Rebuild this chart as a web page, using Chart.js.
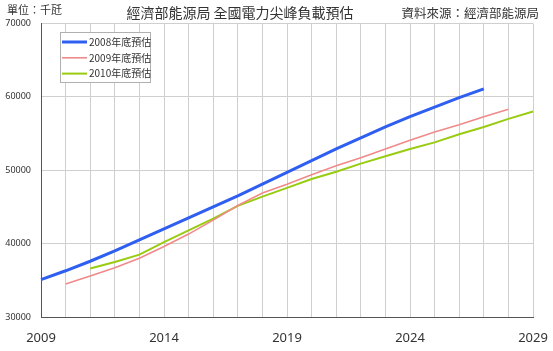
<!DOCTYPE html>
<html>
<head>
<meta charset="utf-8">
<script src="https://cdn.jsdelivr.net/npm/chart.js@4"></script>
<style>
  body { margin: 0; background: #fff; }
  #wrap { width: 553px; height: 351px; }
</style>
</head>
<body>
<div id="wrap"><canvas id="peak-load" width="553" height="351"></canvas></div>
<script>
// years on the x axis (a label shown every 5 years)
var years = ["2009", "2010", "2011", "2012", "2013", "2014", "2015", "2016", "2017", "2018",
             "2019", "2020", "2021", "2022", "2023", "2024", "2025", "2026", "2027", "2028", "2029"];

// 尖峰負載預估 (千瓩), null where a forecast has no value
var forecast2008 = [35100, 36300, 37600, 39000, 40500, 42000, 43500, 45000, 46500, 48100,
                    49700, 51300, 52900, 54400, 55900, 57300, 58600, 59900, 61100, null, null];
var forecast2009 = [null, 34500, 35600, 36700, 38000, 39600, 41300, 43200, 45200, 46900,
                    48100, 49400, 50600, 51700, 52900, 54100, 55200, 56200, 57300, 58300, null];
var forecast2010 = [null, null, 36600, 37500, 38500, 40200, 41800, 43400, 45150, 46400,
                    47600, 48800, 49800, 50900, 51900, 52900, 53800, 54900, 55900, 57000, 58000];

var seriesNames = ["2008年底預估", "2009年底預估", "2010年底預估"];
var yTicks = [30000, 40000, 50000, 60000, 70000];

var cjk = "'Noto Sans CJK TC', 'Noto Sans', sans-serif";

// header texts and the legend box inside the plot
var overlay = {
  id: "overlay",
  afterDraw: function (chart) {
    var c = chart.ctx;
    c.save();
    c.fillStyle = "#333";
    c.textBaseline = "middle";
    c.font = "11px " + cjk;
    c.textAlign = "left";
    c.fillText("單位：千瓩", 7, 10);
    c.font = "14px " + cjk;
    c.textAlign = "center";
    c.fillText("經濟部能源局 全國電力尖峰負載預估", 240, 13);
    c.font = "12.5px " + cjk;
    c.textAlign = "right";
    c.fillText("資料來源：經濟部能源局", 539, 13);

    // legend
    c.fillStyle = "#fff";
    c.fillRect(60.5, 32.5, 90, 50);
    c.strokeStyle = "#b0b0b0";
    c.lineWidth = 1;
    c.strokeRect(60.5, 32.5, 90, 50);
    c.font = "10px " + cjk;
    c.textAlign = "left";
    chart.data.datasets.forEach(function (ds, i) {
      var y = 42 + i * 15.8;
      c.strokeStyle = ds.borderColor;
      c.lineWidth = ds.borderWidth;
      c.beginPath();
      c.moveTo(62, y);
      c.lineTo(87, y);
      c.stroke();
      c.fillStyle = "#333";
      c.fillText(ds.label, 89, y);
    });
    c.restore();
  }
};

new Chart(document.getElementById("peak-load").getContext("2d"), {
  type: "line",
  data: {
    labels: years,
    datasets: [
      { label: seriesNames[0], data: forecast2008, borderColor: "#2f5ff0", borderWidth: 3 },
      { label: seriesNames[1], data: forecast2009, borderColor: "#f08a8a", borderWidth: 1.6 },
      { label: seriesNames[2], data: forecast2010, borderColor: "#99cc11", borderWidth: 2 }
    ]
  },
  options: {
    responsive: false,
    animation: false,
    layout: { padding: { top: 23.5, right: 20, bottom: 0, left: 0 } },
    elements: { point: { radius: 0 }, line: { tension: 0 } },
    plugins: { legend: { display: false }, tooltip: { enabled: false } },
    scales: {
      x: {
        offset: false,
        grid: { color: "#cfcfcf", drawTicks: false, offset: false },
        border: { color: "#555", width: 1 },
        ticks: {
          autoSkip: false,
          maxRotation: 0,
          padding: 13,
          color: "#333",
          font: { size: 13, family: "'Noto Sans', sans-serif" },
          callback: function (v, i) { return i % 5 === 0 ? years[i] : ""; }
        },
        afterFit: function (s) { s.height = 34; s.paddingLeft = 0; s.paddingRight = 0; }
      },
      y: {
        min: yTicks[0],
        max: yTicks[yTicks.length - 1],
        grid: { color: "#cfcfcf", drawTicks: false },
        border: { color: "#555", width: 1 },
        afterBuildTicks: function (s) { s.ticks = yTicks.map(function (v) { return { value: v }; }); },
        ticks: {
          padding: 10,
          color: "#333",
          font: { size: 9, family: "'Noto Sans', sans-serif" },
          callback: function (v) { return String(v); }
        },
        afterFit: function (s) { s.width = 41; s.paddingTop = 0; s.paddingBottom = 0; }
      }
    }
  },
  plugins: [overlay]
});
</script>
</body>
</html>
